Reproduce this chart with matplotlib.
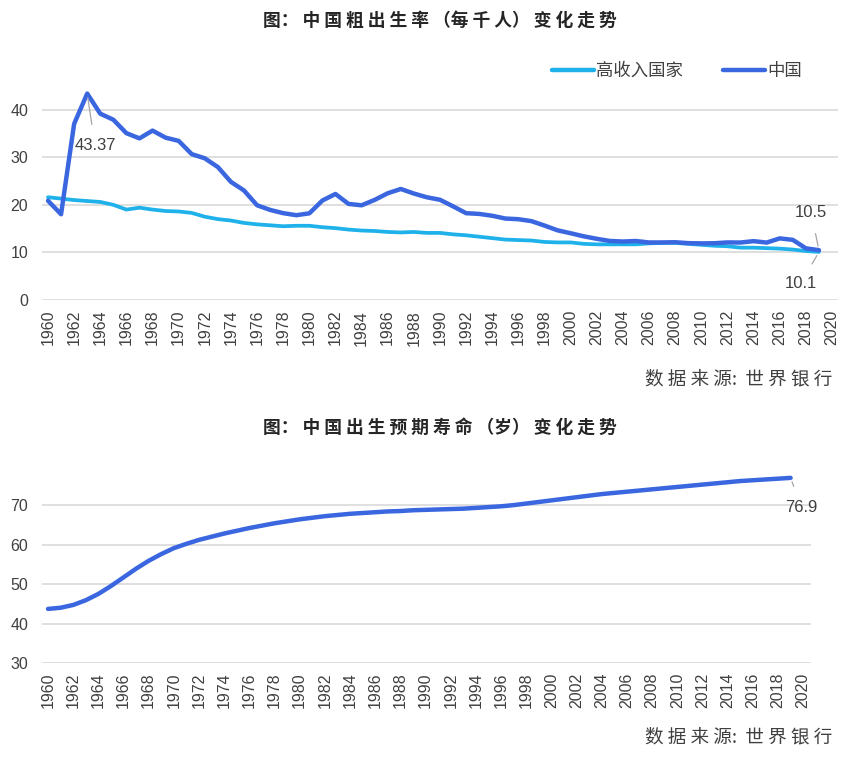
import numpy as np
import matplotlib
matplotlib.use("Agg")
import matplotlib.pyplot as plt

plt.rcParams['font.family'] = ['Liberation Sans', 'Noto Sans CJK SC', 'DejaVu Sans']

# data (World Bank)
years = list(range(1960, 2020))
china_birth = [20.86, 18.02, 37.01, 43.37, 39.14, 37.88, 35.05, 33.96, 35.59, 34.11,
               33.43, 30.65, 29.77, 27.93, 24.82, 23.01, 19.91, 18.93, 18.25, 17.82,
               18.21, 20.91, 22.28, 20.19, 19.90, 21.04, 22.43, 23.33, 22.37, 21.58,
               21.06, 19.68, 18.24, 18.09, 17.70, 17.12, 16.98, 16.57, 15.64, 14.64,
               14.03, 13.38, 12.86, 12.41, 12.29, 12.40, 12.09, 12.10, 12.14, 11.95,
               11.90, 11.93, 12.10, 12.08, 12.37, 12.07, 12.95, 12.64, 10.86, 10.48]
high_income_birth = [21.6, 21.3, 21.0, 20.8, 20.6, 20.0, 19.0, 19.4, 19.0, 18.7,
                     18.6, 18.3, 17.5, 17.0, 16.7, 16.2, 15.9, 15.7, 15.5, 15.6,
                     15.6, 15.3, 15.1, 14.8, 14.6, 14.5, 14.3, 14.2, 14.3, 14.1,
                     14.1, 13.8, 13.6, 13.3, 13.0, 12.7, 12.6, 12.5, 12.2, 12.1,
                     12.1, 11.8, 11.7, 11.7, 11.7, 11.7, 11.9, 12.0, 12.0, 11.8,
                     11.6, 11.4, 11.3, 11.0, 11.0, 10.9, 10.8, 10.6, 10.3, 10.1]
life_expectancy = [43.7, 44.0, 44.7, 45.9, 47.5, 49.5, 51.7, 53.9, 55.9, 57.6,
                   59.1, 60.2, 61.2, 62.0, 62.8, 63.5, 64.2, 64.8, 65.4, 65.9,
                   66.4, 66.8, 67.2, 67.5, 67.8, 68.0, 68.2, 68.4, 68.5, 68.7,
                   68.8, 68.9, 69.0, 69.1, 69.3, 69.5, 69.7, 70.0, 70.4, 70.8,
                   71.2, 71.6, 72.0, 72.4, 72.8, 73.1, 73.4, 73.7, 74.0, 74.3,
                   74.6, 74.9, 75.2, 75.5, 75.8, 76.1, 76.3, 76.5, 76.7, 76.9]
xticks = list(range(1960, 2021, 2))

china_color = '#3a66e0'
high_color = '#1eb1ea'
grid_color = '#d9d9d9'
text_color = '#404040'
lead_color = '#a6a6a6'
cjk = ['Noto Sans CJK SC', 'DejaVu Sans']

fig = plt.figure(figsize=(8.5, 7.59), dpi=100)


def style_axes(ax):
    for s in ax.spines.values():
        s.set_visible(False)
    ax.grid(axis='y', color=grid_color, linewidth=1.2)
    ax.set_axisbelow(True)
    ax.tick_params(length=0, labelsize=11.5, colors=text_color)
    ax.tick_params(axis='y', pad=10)
    ax.tick_params(axis='x', pad=7)
    ax.set_xticks(xticks)
    ax.set_xticklabels([str(t) for t in xticks], rotation=90)


def callout(ax, text, xy, xytext):
    ax.annotate(text, xy=xy, xytext=xytext, fontsize=12, color=text_color,
                ha='center', va='center',
                arrowprops=dict(arrowstyle='-', color=lead_color, lw=0.9,
                                shrinkA=8, shrinkB=3))


# top chart: crude birth rate
ax1 = fig.add_axes([0.0494, 0.6047, 0.9365, 0.3136])
style_axes(ax1)
ax1.plot(years, high_income_birth, color=high_color, lw=2.7, solid_joinstyle='round',
         solid_capstyle='round', label='高收入国家')
ax1.plot(years, china_birth, color=china_color, lw=3.2, solid_joinstyle='round',
         solid_capstyle='round', label='中国')
ax1.set_xlim(1959.54, 2020.46)
ax1.set_ylim(0, 50)
ax1.set_yticks([0, 10, 20, 30, 40])
leg = ax1.legend(loc='upper right', bbox_to_anchor=(802 / 850, 1 - 62 / 759),
                 bbox_transform=fig.transFigure, ncol=2, frameon=False,
                 prop={'family': cjk, 'size': 12.5}, handlelength=2.4,
                 columnspacing=2.3, handletextpad=0.15, borderpad=0, borderaxespad=0)
for t in leg.get_texts():
    t.set_color(text_color)
for h in leg.get_lines():
    h.set_linewidth(3.2)

callout(ax1, '43.37', (1963, china_birth[3]), (1963.6, 32.4))
callout(ax1, '10.5', (2019, china_birth[-1]), (2018.4, 18.4))
callout(ax1, '10.1', (2019, high_income_birth[-1]), (2017.6, 3.4))

fig.text(0.518, 0.973, '图： 中 国 粗 出 生 率 （每 千 人） 变 化 走 势', family=cjk,
         fontsize=12.8, fontweight='bold', color='#262626', ha='center', va='center')
fig.text(0.979, 0.5, '数 据 来 源:  世 界 银 行', family=cjk, fontsize=13.4,
         color=text_color, ha='right', va='center')

# bottom chart: life expectancy
ax2 = fig.add_axes([0.0494, 0.1265, 0.905, 0.260])
style_axes(ax2)
ax2.plot(years, life_expectancy, color=china_color, lw=3.2, solid_joinstyle='round',
         solid_capstyle='round')
ax2.set_xlim(1959.52, 2020.64)
ax2.set_ylim(30, 80)
ax2.set_yticks([30, 40, 50, 60, 70])
callout(ax2, '76.9', (2019, life_expectancy[-1]), (2019.85, 69.5))

fig.text(0.518, 0.437, '图： 中 国 出 生 预 期 寿 命 （岁） 变 化 走 势', family=cjk,
         fontsize=12.8, fontweight='bold', color='#262626', ha='center', va='center')
fig.text(0.979, 0.028, '数 据 来 源:  世 界 银 行', family=cjk, fontsize=13.4,
         color=text_color, ha='right', va='center')

fig.savefig('out.png', dpi=100)
